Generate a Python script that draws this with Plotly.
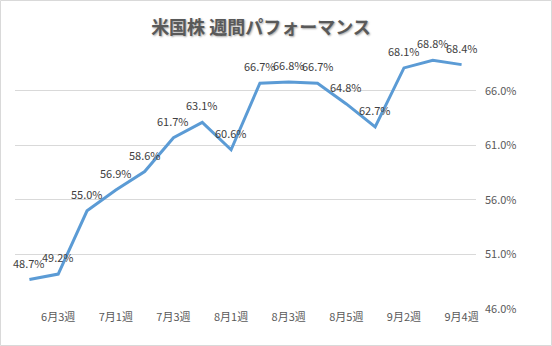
import plotly.graph_objects as go

categories = ["6月2週", "6月3週", "6月4週", "7月1週", "7月2週", "7月3週", "7月4週", "8月1週",
              "8月2週", "8月3週", "8月4週", "8月5週", "9月1週", "9月2週", "9月3週", "9月4週"]
values = [48.7, 49.2, 55.0, 56.9, 58.6, 61.7, 63.1, 60.6, 66.7, 66.8, 66.7, 64.8, 62.7, 68.1, 68.8, 68.4]
x_ticks = ["6月3週", "7月1週", "7月3週", "8月1週", "8月3週", "8月5週", "9月2週", "9月4週"]
y_ticks = [46, 51, 56, 61, 66]
title = "米国株 週間パフォーマンス"

W, H = 552, 346
L, R, T, B = 15, 76, 57, 37
pw, ph = W - L - R, H - T - B
font = "Noto Sans CJK JP, sans-serif"

fig = go.Figure(go.Scatter(
    x=categories, y=values, mode="lines",
    line=dict(color="#5B9BD5", width=3),
    cliponaxis=False,
))

for c, v in zip(categories, values):
    fig.add_annotation(x=c, y=v, text=f"{v:.1f}%", showarrow=False,
                       yshift=17, xanchor="center", yanchor="middle",
                       font=dict(family=font, size=11, color="#404040"))

fig.update_layout(
    width=W, height=H,
    margin=dict(l=L, r=R, t=T, b=B),
    paper_bgcolor="white", plot_bgcolor="white",
    showlegend=False,
    title=dict(text=title, x=261 / W, xref="container", xanchor="center",
               y=1 - 28 / H, yref="container", yanchor="middle",
               font=dict(family=font, size=18, color="#595959", weight="bold",
                         shadow="1px 1px 2px rgba(0,0,0,0.35)")),
    xaxis=dict(type="category", tickmode="array", tickvals=x_ticks, ticktext=x_ticks,
               showgrid=False, showline=False, zeroline=False, ticks="",
               tickfont=dict(family=font, size=11, color="#595959"),
               range=[-0.5, len(categories) - 0.5]),
    yaxis=dict(side="right", range=[46, 69.1], tickvals=y_ticks,
               ticktext=[f"{v:.1f}%" for v in y_ticks],
               showgrid=True, gridcolor="#D9D9D9", gridwidth=1,
               zeroline=False, showline=False, ticks="",
               ticklabelstandoff=8,
               tickfont=dict(family=font, size=11, color="#595959")),
    shapes=[dict(type="rect", xref="paper", yref="paper",
                 x0=(0.5 - L) / pw, x1=(W - 0.5 - L) / pw,
                 y0=-(H - 0.5 - (H - B)) / ph, y1=(H - B - 0.5) / ph,
                 line=dict(color="#D9D9D9", width=1), fillcolor="rgba(0,0,0,0)", layer="below")],
)

fig.write_html("out.html")
